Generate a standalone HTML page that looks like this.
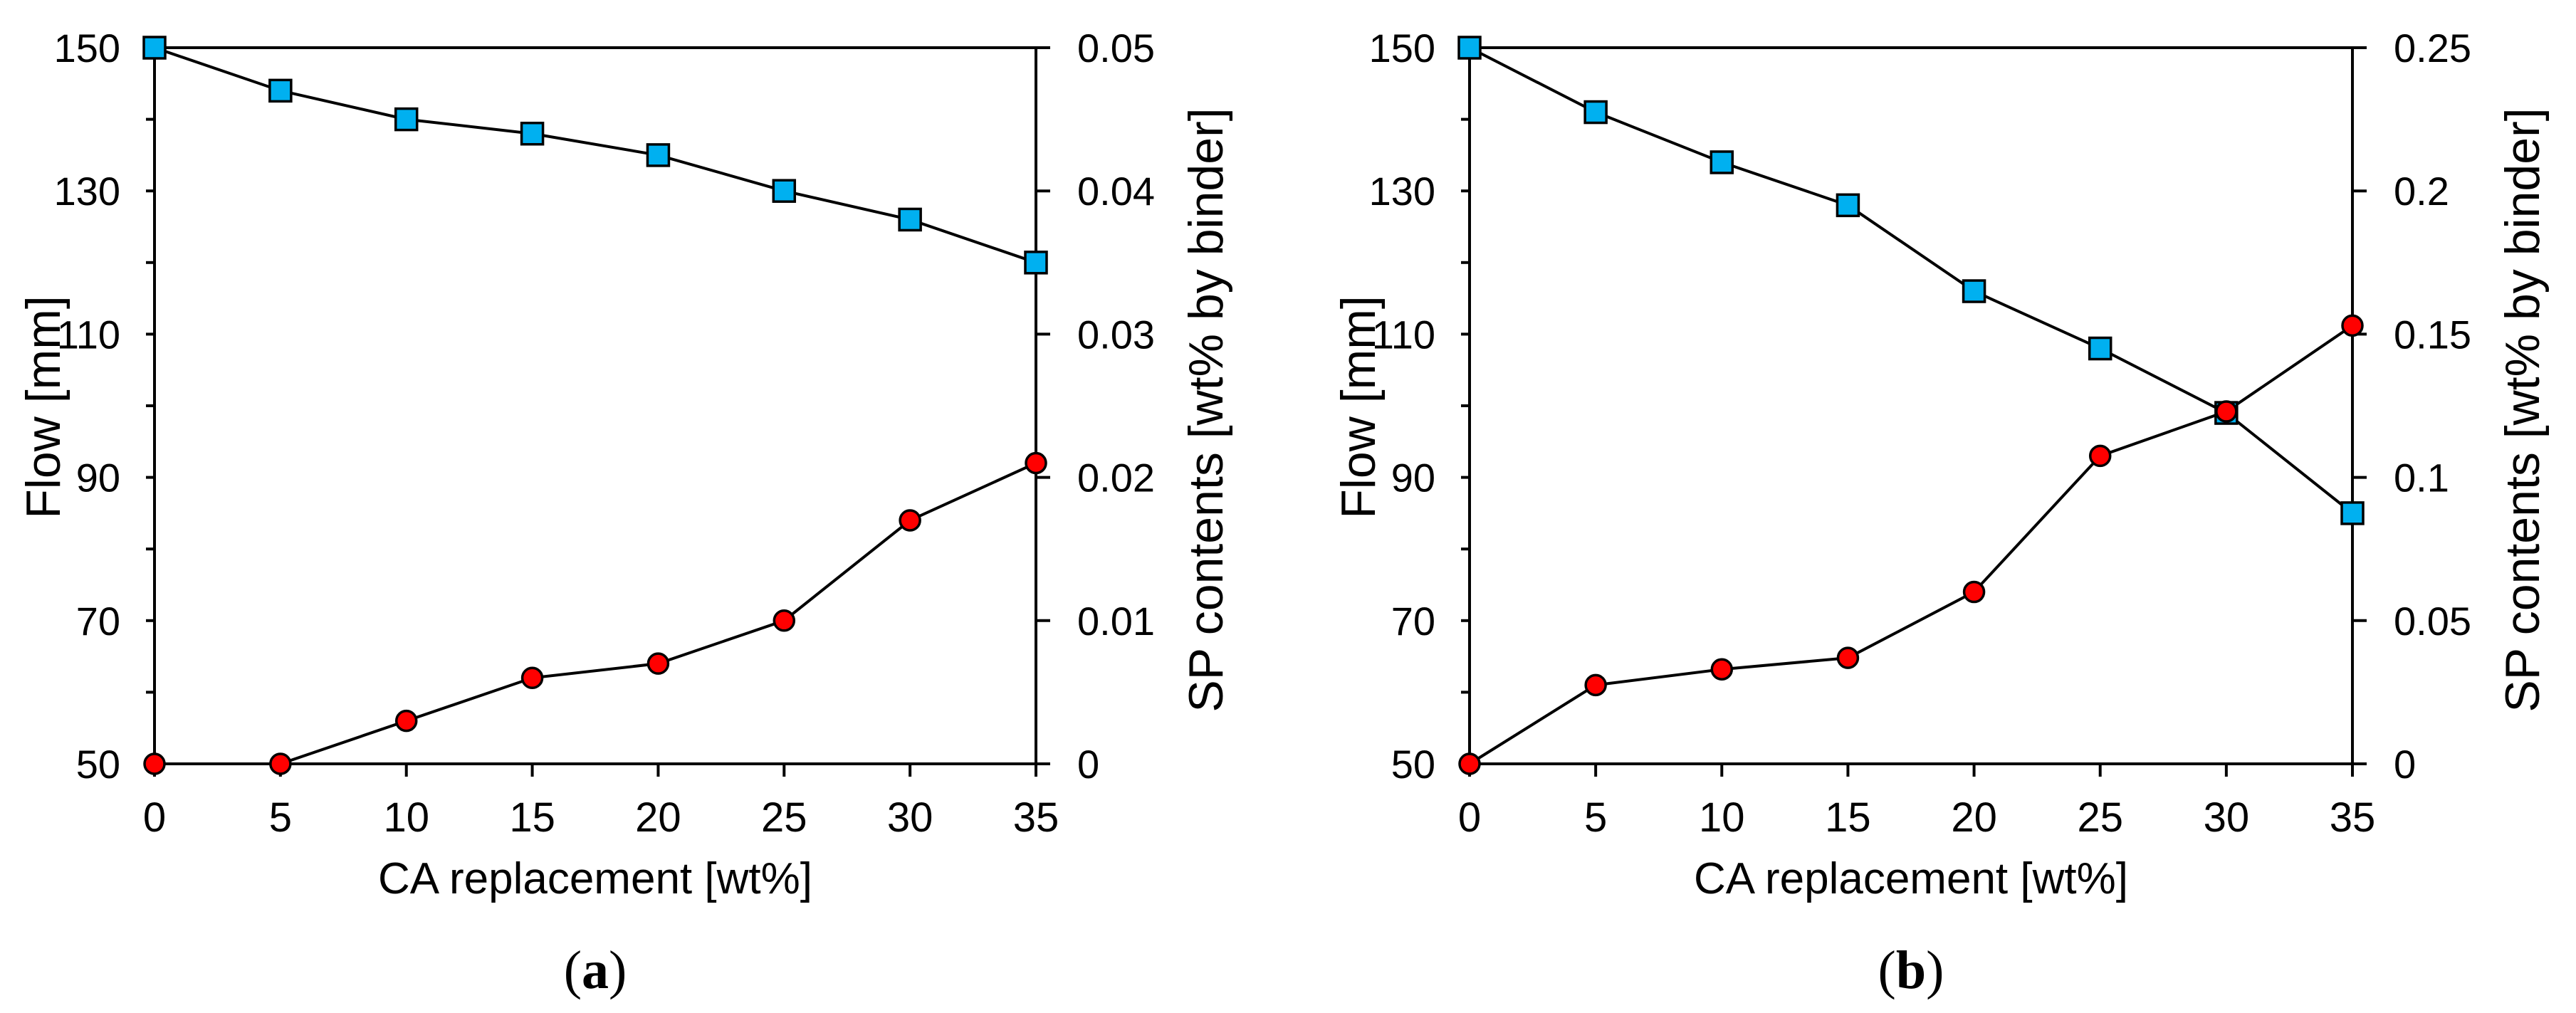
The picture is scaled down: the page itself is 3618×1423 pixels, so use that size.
<!DOCTYPE html>
<html><head><meta charset="utf-8"><style>
html,body{margin:0;padding:0;background:#fff;}
svg{display:block;}
text{font-family:"Liberation Sans",Arial,sans-serif;fill:#000;}
</style></head><body>
<svg id="chart" width="3618" height="1423" viewBox="0 0 3618 1423" xmlns="http://www.w3.org/2000/svg"></svg>
<script>
const categories = [0,5,10,15,20,25,30,35];
const xTickLabels = ["0","5","10","15","20","25","30","35"];
const leftTickLabels = ["50","70","90","110","130","150"];
const leftTickValues = [50,70,90,110,130,150];
const flowA = [150,144,140,138,135,130,126,120];
const spA = [0,0,0.003,0.006,0.007,0.010,0.017,0.021];
const rightTicksA = [0,0.01,0.02,0.03,0.04,0.05];
const rightLabelsA = ["0","0.01","0.02","0.03","0.04","0.05"];
const flowB = [150,141,134,128,116,108,99,85];
const spB = [0,0.0275,0.033,0.037,0.06,0.1075,0.123,0.153];
const rightTicksB = [0,0.05,0.1,0.15,0.2,0.25];
const rightLabelsB = ["0","0.05","0.1","0.15","0.2","0.25"];

const NS="http://www.w3.org/2000/svg";
const svg=document.getElementById('chart');
function mk(tag,attrs,parent){const e=document.createElementNS(NS,tag);for(const k in attrs)e.setAttribute(k,attrs[k]);(parent||svg).appendChild(e);return e;}

function panel(id,L,R,flow,sp,rTicks,rLabels,rMax,letter){
  const T=67,B=1073;
  const g=mk('g',{});
  
  
  const xS=v=>L+(v-0)/35*(R-L);
  const yL=v=>B-(v-50)/100*(B-T);
  const yR=v=>B-v/rMax*(B-T);
  const fr=mk('path',{d:`M${L},${T}H${R}V${B}H${L}Z`,fill:'none',stroke:'#000','stroke-width':4},g);
  
  
  categories.forEach((c,i)=>{
    const x=xS(c);
    mk('line',{x1:x,y1:B,x2:x,y2:B+18,stroke:'#000','stroke-width':4},g);
    const t=mk('text',{x:x,y:1168,'font-size':58,'text-anchor':'middle'},g);
    t.textContent=xTickLabels[i];
    
    
  });
  for(let v=50;v<=150;v+=10){const y=yL(v);mk('line',{x1:L-12,y1:y,x2:L,y2:y,stroke:'#000','stroke-width':4},g);}
  leftTickValues.forEach((v,i)=>{
    const t=mk('text',{x:L-48,y:yL(v)+20,'font-size':56,'text-anchor':'end'},g);
    t.textContent=leftTickLabels[i];
    
    
  });
  rTicks.forEach((v,i)=>{
    const y=yR(v);
    mk('line',{x1:R,y1:y,x2:R+20,y2:y,stroke:'#000','stroke-width':4},g);
    const t=mk('text',{x:R+58,y:y+20,'font-size':56,'text-anchor':'start'},g);
    t.textContent=rLabels[i];
    
    
  });
  const cx=(L+R)/2;
  const xt=mk('text',{x:cx,y:1255,'font-size':62,'text-anchor':'middle'},g);
  xt.textContent='CA replacement [wt%]';
  
  
  const lt=mk('text',{x:0,y:0,'font-size':68,'text-anchor':'middle',transform:`translate(${L-133},572) rotate(-90)`},g);
  lt.textContent='Flow [mm]';
  
  
  const rt=mk('text',{x:0,y:0,'font-size':68,'text-anchor':'middle',transform:`translate(${R+262},576) rotate(-90)`},g);
  rt.textContent='SP contents [wt% by binder]';
  
  
  const pl=mk('text',{x:cx,y:1388,'font-size':76,'text-anchor':'middle',style:'font-family:"Liberation Serif",serif'},g);
  pl.innerHTML='(<tspan font-weight="bold">'+letter+'</tspan>)';
  
  
  const fl=mk('polyline',{points:categories.map((c,i)=>xS(c)+','+yL(flow[i])).join(' '),fill:'none',stroke:'#000','stroke-width':4},g);
  
  
  const sl=mk('polyline',{points:categories.map((c,i)=>xS(c)+','+yR(sp[i])).join(' '),fill:'none',stroke:'#000','stroke-width':4},g);
  
  
  categories.forEach((c,i)=>{
    const s=mk('rect',{x:xS(c)-15,y:yL(flow[i])-15,width:30,height:30,fill:'#00b0f0',stroke:'#000','stroke-width':3.5},g);
    
    
  });
  categories.forEach((c,i)=>{
    const p=mk('circle',{cx:xS(c),cy:yR(sp[i]),r:14,fill:'#ff0000',stroke:'#000','stroke-width':3.5},g);
    
    
  });
}
panel('a',217,1455,flowA,spA,rightTicksA,rightLabelsA,0.05,'a');
panel('b',2064,3304,flowB,spB,rightTicksB,rightLabelsB,0.25,'b');
</script>
</body></html>
